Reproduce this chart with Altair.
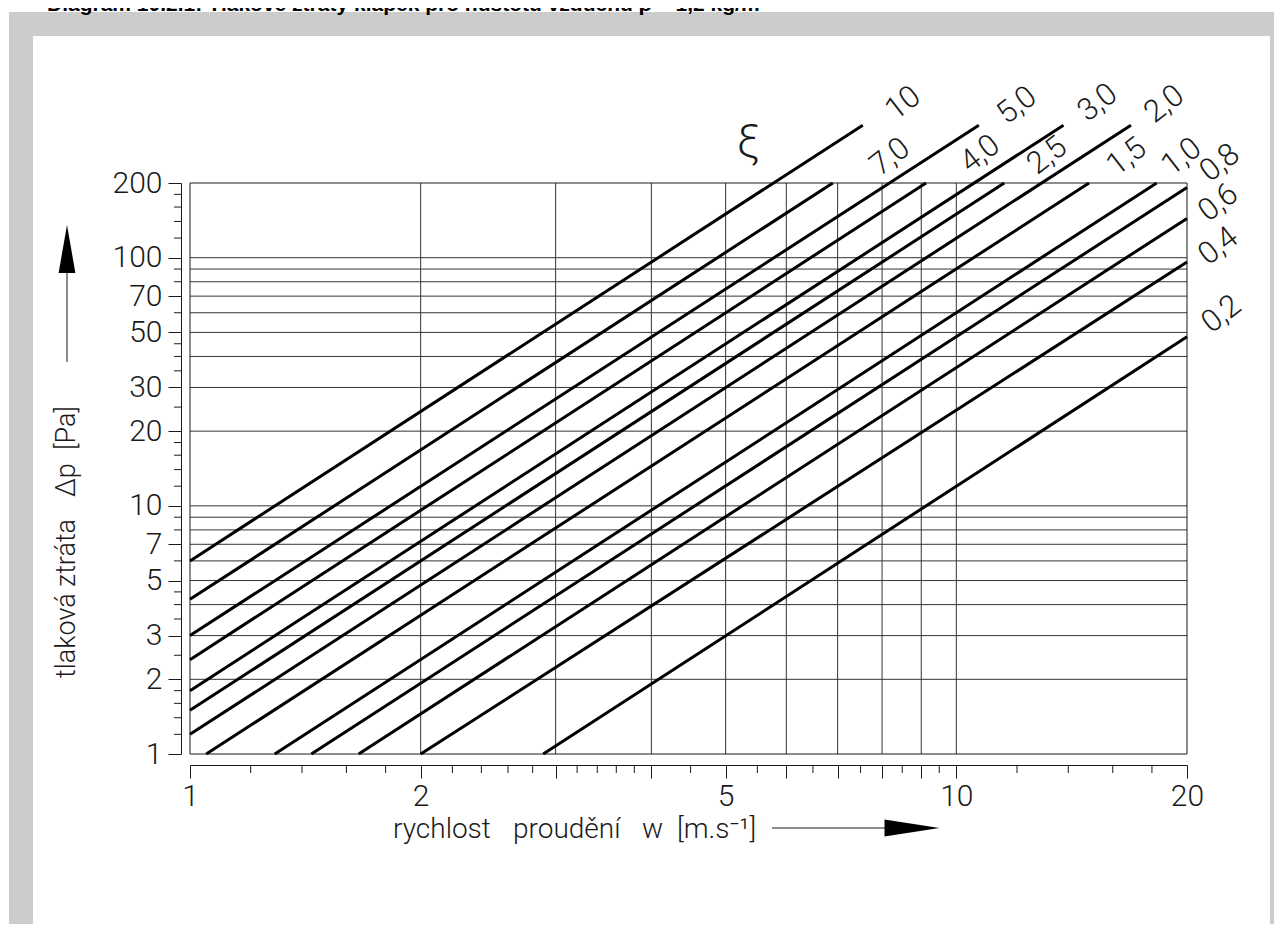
import altair as alt
import pandas as pd

# ---------------- data ----------------
xi_text = ["10", "7,0", "5,0", "4,0", "3,0", "2,5", "2,0", "1,5", "1,0", "0,8", "0,6", "0,4", "0,2"]
w_start = [1.0, 1.0, 1.0, 1.0, 1.0, 1.0, 1.0, 1.05, 1.29, 1.44, 1.66, 2.0, 2.89]
dp_start = [6.0, 4.2, 3.0, 2.4, 1.8, 1.5, 1.2, 1.0, 1.0, 1.0, 1.0, 1.0, 1.0]
w_end = [7.55, 6.9, 10.7, 9.13, 13.8, 11.55, 16.9, 14.9, 18.26, 20.0, 20.0, 20.0, 20.0]
dp_end = [342, 200, 342, 200, 342, 200, 342, 200, 200, 192, 144, 96, 48]
label_w = [8.53, 8.20, 12.0, 10.75, 15.3, 13.15, 18.7, 16.7, 19.7, 22.1, 22.0, 22.0, 22.2]
label_dp = [418, 254, 410, 261, 420, 257, 414, 254, 254, 240, 166, 111, 59]
xi_symbol_w = [5.35]
xi_symbol_dp = [290]

w_range = [1, 20]
dp_range = [1, 200]
h_grid = [2, 3, 4, 5, 6, 7, 8, 9, 10, 20, 30, 40, 50, 60, 70, 80, 90, 100]
v_grid = [2, 3, 4, 5, 6, 7, 8, 9, 10]
x_major = [1, 2, 3, 4, 5, 6, 7, 8, 9, 10, 20]
x_minor = [1.2, 1.4, 1.6, 1.8, 2.2, 2.4, 2.6, 2.8, 3.2, 3.4, 3.6, 3.8, 4.5, 5.5,
           6.5, 7.5, 8.5, 9.5, 12, 14, 16, 18]
y_major = [1, 2, 3, 5, 7, 10, 20, 30, 50, 70, 100, 200]
y_minor = [1.2, 1.4, 1.6, 1.8, 2.5, 3.5, 4, 4.5, 6, 8, 9, 12, 14, 16, 18, 25, 35,
           40, 45, 60, 80, 90, 120, 140, 160, 180]

title_text = "Diagram 10.2.1:   Tlakové ztráty klapek pro hustotu vzduchu ρ = 1,2 kg/m³"
x_title_words = ["rychlost", "proudění", "w", "[m.s⁻¹]"]
y_title_words = ["tlaková", "ztráta", "∆p", "[Pa]"]

# ---------------- layout ----------------
W, H = 997, 571
FONT = "Roboto"
INK = "#1a1a1a"
x_title_pos = [203, 323, 452, 487]      # word starts, px from plot left
y_title_pos = [495, 404, 314, 267]      # word starts (bottom), px from plot top

xs = alt.Scale(type="log", domain=w_range, nice=False)
ys = alt.Scale(type="log", domain=dp_range, nice=False)

x_axis = alt.Axis(values=x_major, format="d",
                  labelExpr="(datum.value == 1 || datum.value == 2 || datum.value == 5 || datum.value == 10 || datum.value == 20) ? datum.label : ''",
                  offset=11, tickSize=13, labelPadding=3, labelFontSize=30, labelFont=FONT,
                  labelFontWeight=300, labelColor=INK, domainColor=INK, tickColor=INK,
                  labelOverlap=False, labelFlush=False, labelBound=False, grid=False,
                  title=None, zindex=2)
y_axis = alt.Axis(values=y_major, format="d", offset=9, tickSize=13, labelPadding=6,
                  labelFontSize=30, labelFont=FONT, labelFontWeight=300, labelColor=INK,
                  domainColor=INK, tickColor=INK, labelOverlap=False, labelFlush=False,
                  labelBound=False, grid=False, title=None, zindex=2)


def X(field):
    return alt.X(field, type="quantitative", scale=xs, axis=x_axis)


def Y(field):
    return alt.Y(field, type="quantitative", scale=ys, axis=y_axis)


curves = pd.DataFrame({"xi": xi_text, "w0": w_start, "p0": dp_start,
                       "w1": w_end, "p1": dp_end, "lw": label_w, "lp": label_dp})
hdf = pd.DataFrame({"v": h_grid, "a": w_range[0], "b": w_range[1]})
vdf = pd.DataFrame({"v": v_grid, "a": dp_range[0], "b": dp_range[1]})
fdf = pd.DataFrame({"xa": [w_range[0]], "xb": [w_range[1]], "ya": [dp_range[0]], "yb": [dp_range[1]]})
xtdf = pd.DataFrame({"t": x_title_words, "px": x_title_pos})
ytdf = pd.DataFrame({"t": y_title_words, "py": y_title_pos})
one = pd.DataFrame({"a": [0]})

gray = alt.Chart(one).mark_rect(color="#cccccc").encode(
    x=alt.value(-181), x2=alt.value(1092), y=alt.value(-171), y2=alt.value(757))
white = alt.Chart(one).mark_rect(color="white").encode(
    x=alt.value(-157), x2=alt.value(1080), y=alt.value(-147), y2=alt.value(742))

top_title = alt.Chart(one).mark_text(
    font="Liberation Sans", fontWeight="bold", fontSize=21,
    align="left", baseline="alphabetic", color="black").encode(
    x=alt.value(-143), y=alt.value(-172), text=alt.value(title_text))

hg = alt.Chart(hdf).mark_rule(color="#333", strokeWidth=1).encode(
    y=Y("v"), x=X("a"), x2="b:Q")
vg = alt.Chart(vdf).mark_rule(color="#333", strokeWidth=1).encode(
    x=X("v"), y=Y("a"), y2="b:Q")

frame = alt.Chart(fdf).mark_rect(fill="transparent", stroke=INK, strokeWidth=1).encode(
    x=X("xa"), x2="xb:Q", y=Y("ya"), y2="yb:Q")

xmin = alt.Chart(pd.DataFrame({"v": x_minor})).mark_rule(color=INK, strokeWidth=1).encode(
    x=X("v"), y=alt.value(H + 11), y2=alt.value(H + 19))
ymin = alt.Chart(pd.DataFrame({"v": y_minor})).mark_rule(color=INK, strokeWidth=1).encode(
    y=Y("v"), x=alt.value(-9), x2=alt.value(-16))

lines = alt.Chart(curves).mark_rule(color="black", strokeWidth=3, strokeCap="butt").encode(
    x=X("w0"), y=Y("p0"), x2="w1:Q", y2="p1:Q")

labels = alt.Chart(curves).mark_text(
    font=FONT, fontWeight=300, fontSize=31, angle=322, align="center",
    baseline="middle", color=INK).encode(
    x=X("lw"), y=Y("lp"), text="xi:N")

xi_sym = alt.Chart(pd.DataFrame({"w": xi_symbol_w, "p": xi_symbol_dp, "t": ["ξ"]})).mark_text(
    font=FONT, fontWeight=300, fontSize=46, align="center", baseline="middle", color=INK).encode(
    x=X("w"), y=Y("p"), text="t:N")

xt = alt.Chart(xtdf).mark_text(font=FONT, fontWeight=300, fontSize=28,
                               align="left", baseline="alphabetic", color=INK).encode(
    x=alt.X("px:Q", scale=None), y=alt.value(655), text="t:N")
x_arrow_line = alt.Chart(one).mark_rule(color=INK, strokeWidth=1).encode(
    x=alt.value(582), x2=alt.value(702), y=alt.value(645))
x_arrow_head = alt.Chart(one).mark_point(
    shape="M-1,-0.31L1,0L-1,0.31Z", size=3025, filled=True, color="black", opacity=1,
    strokeWidth=0).encode(x=alt.value(722), y=alt.value(645))

yt = alt.Chart(ytdf).mark_text(font=FONT, fontWeight=300, fontSize=27, angle=270,
                               align="left", baseline="alphabetic", color=INK).encode(
    x=alt.value(-115), y=alt.Y("py:Q", scale=None), text="t:N")
y_arrow_line = alt.Chart(one).mark_rule(color=INK, strokeWidth=1).encode(
    x=alt.value(-123), y=alt.value(179), y2=alt.value(88))
y_arrow_head = alt.Chart(one).mark_point(
    shape="M-0.35,1L0,-1L0.35,1Z", size=2304, filled=True, color="black", opacity=1,
    strokeWidth=0).encode(x=alt.value(-123), y=alt.value(66))

chart = alt.layer(
    gray, white, top_title, hg, vg, frame, xmin, ymin, lines, labels, xi_sym,
    xt, x_arrow_line, x_arrow_head, yt, y_arrow_line, y_arrow_head
).properties(
    width=W, height=H,
    autosize=alt.AutoSizeParams(type="none"),
    padding={"left": 182, "top": 175, "right": 87, "bottom": 170},
    background="white",
).configure_view(stroke=None)

chart.save("out.html", embed_options={"renderer": "svg", "actions": False})
